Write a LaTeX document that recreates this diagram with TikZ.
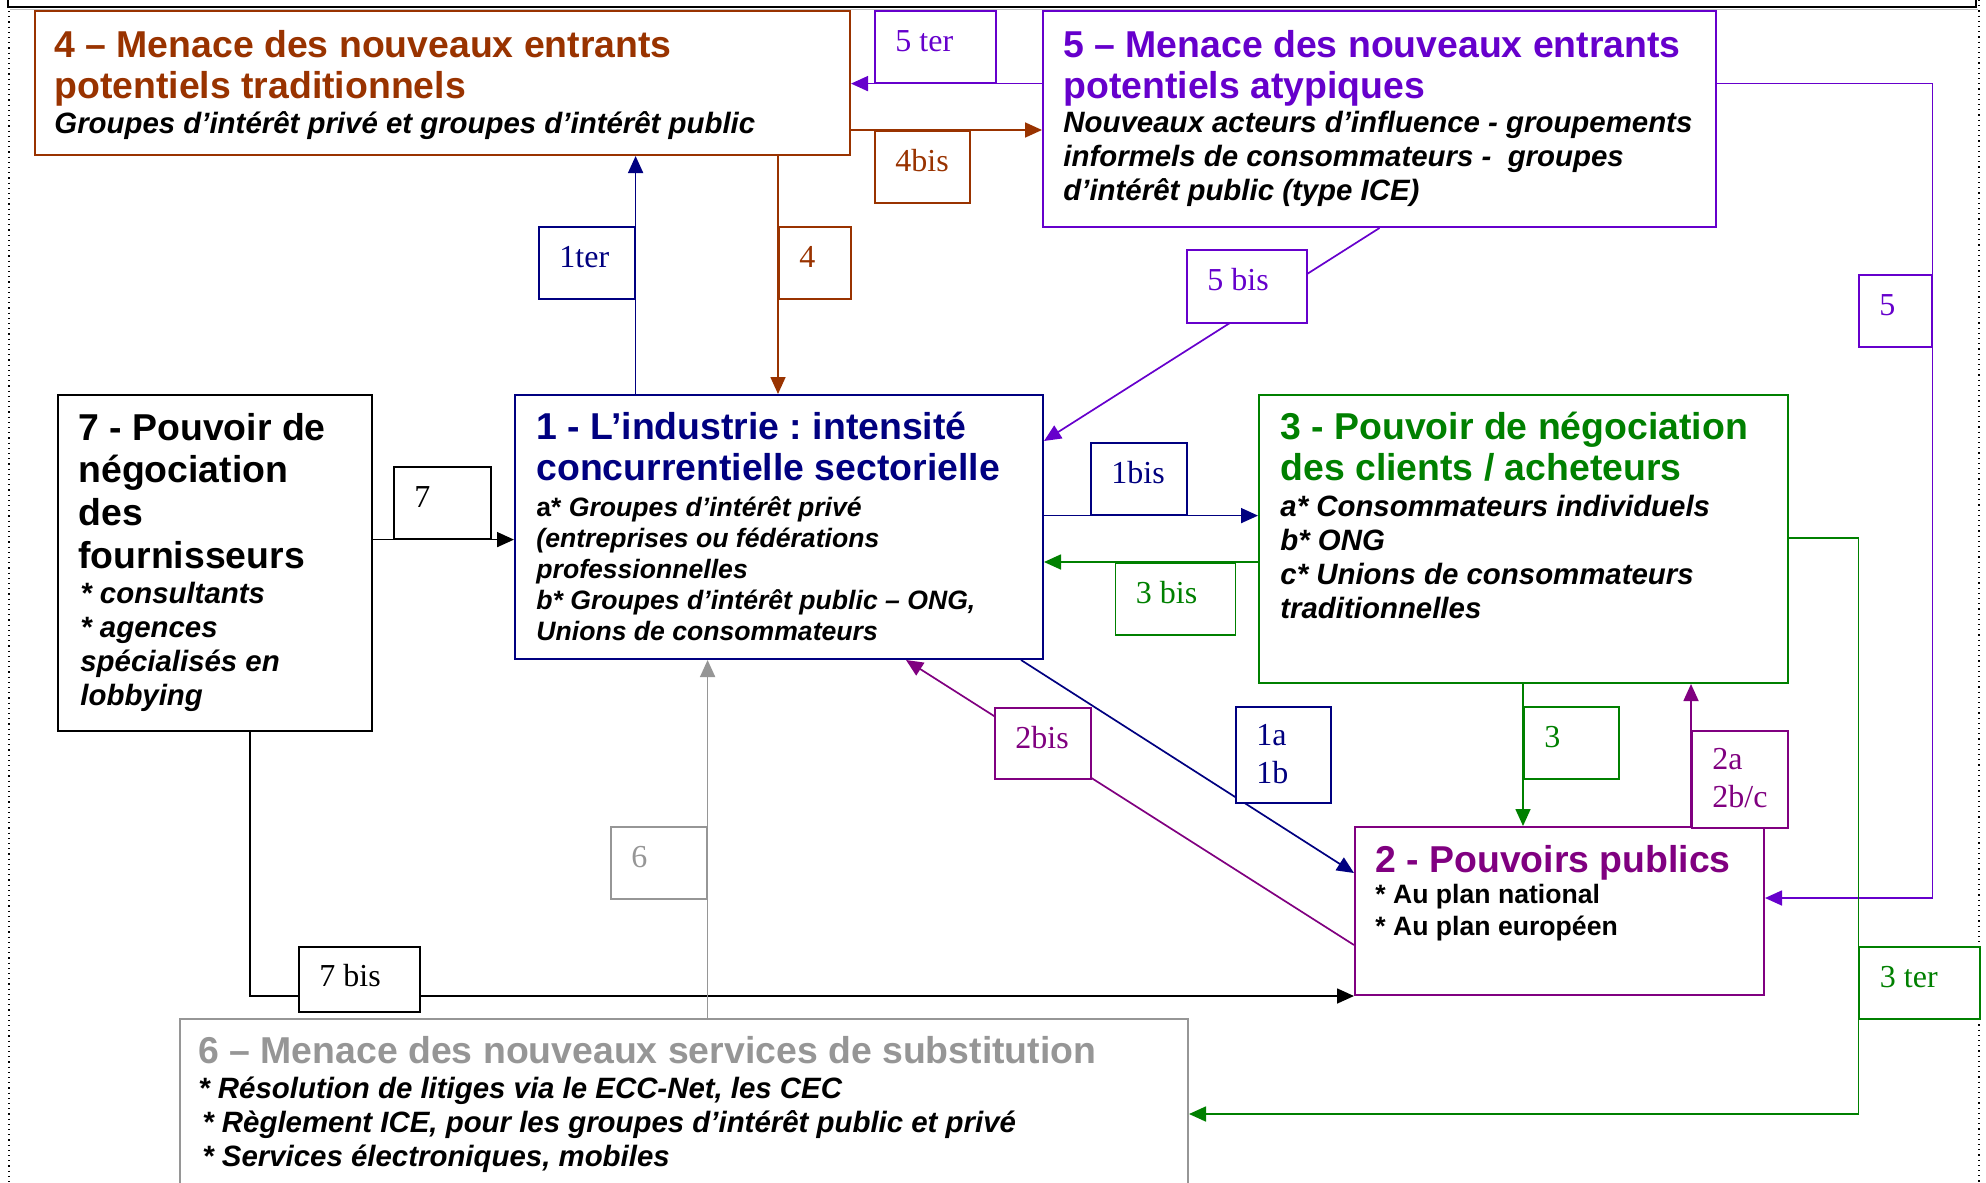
\documentclass[tikz,border=0pt]{standalone}
\usepackage{fontspec}
\setmainfont{Liberation Sans}
\newfontfamily\tagfont{Liberation Serif}
\usetikzlibrary{arrows.meta,calc,backgrounds}
\frenchspacing

\definecolor{brownc}{RGB}{153,51,0}
\definecolor{violetc}{RGB}{102,0,204}
\definecolor{navyc}{RGB}{0,0,128}
\definecolor{greenc}{RGB}{0,128,0}
\definecolor{purplec}{RGB}{128,0,128}
\definecolor{grayc}{RGB}{150,150,150}

\begin{document}
\begin{tikzpicture}[x=0.5pt, y=-0.5pt, >={Triangle[length=8.5pt, width=7.5pt]}]
    \tikzstyle{force} = [rectangle, draw, line width=1pt, fill=white, anchor=north west, inner sep=0pt]
    \tikzstyle{tag} = [rectangle, draw, line width=0.8pt, fill=white, anchor=north west, inner sep=0pt]
    \tikzstyle{title} = [anchor=base west, inner sep=0pt, align=left, font=\fontsize{18.7}{20.5}\selectfont\bfseries]
    \tikzstyle{detail} = [anchor=base west, inner sep=0pt, align=left, font=\fontsize{14.7}{17}\selectfont\bfseries\itshape]
    \tikzstyle{tagtext} = [anchor=base west, inner sep=0pt, align=left, font=\fontsize{16}{18.75}\selectfont\tagfont]
    \tikzstyle{link} = [->, line width=0.85pt]

    \useasboundingbox (0,0) rectangle (1986,1183);

    % Page frame
    \draw[line width=1pt] (8,-4) -- (8,7) -- (1976,7) -- (1976,-4);
    \draw[gray!50, line width=0.8pt] (10,9.5) -- (1978,9.5);
    \draw[dotted, line width=0.6pt] (9,11) -- (9,1183);
    \draw[dotted, line width=0.6pt] (1979,0) -- (1979,1183);

    % Forces
    \node[force, draw=brownc, minimum width=407.5pt, minimum height=72pt] (b4) at (34,10) {};
    \node[force, draw=violetc, minimum width=336.5pt, minimum height=108pt] (b5) at (1042,10) {};
    \node[force, draw=navyc, minimum width=264pt, minimum height=132pt] (b1) at (514,394) {};
    \node[force, minimum width=157pt, minimum height=168pt] (b7) at (57,394) {};
    \node[force, draw=greenc, minimum width=264.5pt, minimum height=144pt] (b3) at (1258,394) {};
    \node[force, draw=purplec, minimum width=204.5pt, minimum height=84pt] (b2) at (1354,826) {};
    \node[force, draw=grayc, minimum width=504pt, minimum height=90pt] (b6) at (179,1018) {};

    % Force texts (anchored at the last line)
    \node[title, text=brownc] (t4) at (54,98) {4 – Menace des nouveaux entrants\\potentiels traditionnels};
    \node[detail] (d4) at (54,133) {Groupes d’intérêt privé et groupes d’intérêt public};
    \node[title, text=violetc] (t5) at (1063,98) {5 – Menace des nouveaux entrants\\potentiels atypiques};
    \node[detail] (d5) at (1063,200) {Nouveaux acteurs d’influence - groupements\\informels de consommateurs -\ \ groupes\\d’intérêt public (type ICE)};
    \node[title, text=navyc] (t1) at (536,480) {1 - L’industrie : intensité\\concurrentielle sectorielle};
    \node[detail, font=\fontsize{13.3}{15.4}\selectfont\bfseries\itshape] (d1) at (536,640) {{\upshape a*} Groupes d’intérêt privé\\(entreprises ou fédérations\\professionnelles\\b* Groupes d’intérêt public – ONG,\\Unions de consommateurs};
    \node[title, font=\fontsize{18.7}{21.3}\selectfont\bfseries] (t7) at (78,568) {7 - Pouvoir de\\négociation\\des\\fournisseurs};
    \node[detail] (d7) at (80,705) {* consultants\\* agences\\spécialisés en\\lobbying};
    \node[title, text=greenc] (t3) at (1280,480) {3 - Pouvoir de négociation\\des clients / acheteurs};
    \node[detail] (d3) at (1280,618) {a* Consommateurs individuels\\b* ONG\\c* Unions de consommateurs\\traditionnelles};
    \node[title, text=purplec] (t2) at (1375,872) {2 - Pouvoirs publics};
    \node[detail, font=\fontsize{13.3}{16}\selectfont\bfseries] (d2) at (1375,935) {* Au plan national\\* Au plan européen};
    \node[title, text=grayc] (t6) at (198,1063) {6 – Menace des nouveaux services de substitution};
    \node[detail] (d6) at (198,1166) {* Résolution de litiges via le ECC-Net, les CEC\\\hspace{2pt}* Règlement ICE, pour les groupes d’intérêt public et privé\\\hspace{2pt}* Services électroniques, mobiles};

    % Flow tags
    \node[tag, draw=violetc, minimum width=60.5pt, minimum height=36pt] (l5ter) at (874,10) {};
    \node[tagtext, text=violetc] (x5ter) at ([shift={(21,41)}]l5ter.north west) {5 ter};
    \node[tag, draw=brownc, minimum width=47.5pt, minimum height=36pt] (l4bis) at (874,130) {};
    \node[tagtext, text=brownc] (x4bis) at ([shift={(21,41)}]l4bis.north west) {4bis};
    \node[tag, draw=navyc, minimum width=48pt, minimum height=36pt] (l1ter) at (538,226) {};
    \node[tagtext, text=navyc] (x1ter) at ([shift={(21,41)}]l1ter.north west) {1ter};
    \node[tag, draw=brownc, minimum width=36pt, minimum height=36pt] (l4) at (778,226) {};
    \node[tagtext, text=brownc] (x4) at ([shift={(21,41)}]l4.north west) {4};
    \node[tag, draw=violetc, minimum width=60pt, minimum height=36.5pt] (l5bis) at (1186,249) {};
    \node[tagtext, text=violetc] (x5bis) at ([shift={(21,41)}]l5bis.north west) {5 bis};
    \node[tag, draw=violetc, minimum width=36.5pt, minimum height=36pt] (l5) at (1858,274) {};
    \node[tagtext, text=violetc] (x5) at ([shift={(21,41)}]l5.north west) {5};
    \node[tag, minimum width=48.5pt, minimum height=36pt] (l7) at (393,466) {};
    \node[tagtext] (x7) at ([shift={(21,41)}]l7.north west) {7};
    \node[tag, draw=navyc, minimum width=48pt, minimum height=36pt] (l1bis) at (1090,442) {};
    \node[tagtext, text=navyc] (x1bis) at ([shift={(21,41)}]l1bis.north west) {1bis};
    \node[tag, draw=greenc, minimum width=60pt, minimum height=36pt] (l3bis) at (1114.5,562) {};
    \node[tagtext, text=greenc] (x3bis) at ([shift={(21,41)}]l3bis.north west) {3 bis};
    \node[tag, draw=purplec, minimum width=48pt, minimum height=35.5pt] (l2bis) at (994,707) {};
    \node[tagtext, text=purplec] (x2bis) at ([shift={(21,41)}]l2bis.north west) {2bis};
    \node[tag, draw=navyc, minimum width=47.5pt, minimum height=48pt] (l1ab) at (1235,706) {};
    \node[tagtext, text=navyc] (x1ab) at ([shift={(21,77)}]l1ab.north west) {1a\\1b};
    \node[tag, draw=greenc, minimum width=47.5pt, minimum height=36pt] (l3) at (1523,706) {};
    \node[tagtext, text=greenc] (x3) at ([shift={(21,41)}]l3.north west) {3};
    \node[tag, draw=purplec, minimum width=48pt, minimum height=48.5pt] (l2abc) at (1691,730) {};
    \node[tagtext, text=purplec] (x2abc) at ([shift={(21,77)}]l2abc.north west) {2a\\2b/c};
    \node[tag, draw=grayc, minimum width=48pt, minimum height=36pt] (l6) at (610,826) {};
    \node[tagtext, text=grayc] (x6) at ([shift={(21,41)}]l6.north west) {6};
    \node[tag, minimum width=60.5pt, minimum height=32.5pt] (l7bis) at (298,946) {};
    \node[tagtext] (x7bis) at ([shift={(21,40)}]l7bis.north west) {7 bis};
    \node[tag, draw=greenc, minimum width=60.25pt, minimum height=36pt] (l3ter) at (1858.5,946) {};
    \node[tagtext, text=greenc] (x3ter) at ([shift={(21,41)}]l3ter.north west) {3 ter};

    % Connections
    \begin{pgfonlayer}{background}
    \draw[link, violetc] (b5.west |- l5ter.south) -- (b4.east |- l5ter.south);
    \draw[link, brownc] (b4.east |- l4bis.north) -- (b5.west |- l4bis.north);
    \draw[link, navyc] (l1ter.east |- b1.north) -- (l1ter.east |- b4.south);
    \draw[link, brownc] (l4.west |- b4.south) -- (l4.west |- b1.north);
    \draw[link, violetc] (b5.south) -- ($(b1.north east)+(0,47)$);
    \draw[link, violetc] (b5.east |- l5ter.south) -| (l5.east) |- ($(b2.north east)+(0,72)$);
    \draw[link] (b7.east |- l7.south) -- (b1.west |- l7.south);
    \draw[link] ($(b7.south west)+(193,0)$) |- (b2.south west);
    \draw[link, navyc] (b1.east |- l1bis.south) -- (b3.west |- l1bis.south);
    \draw[link, greenc] (b3.west |- l3bis.north) -- (b1.east |- l3bis.north);
    \draw[link, navyc] ($(b1.south east)+(-23,0)$) -- ($(b2.north west)+(0,47)$);
    \draw[link, purplec] ($(b2.north west)+(0,119)$) -- ($(b1.south west)+(392,0)$);
    \draw[link, greenc] (l3.west |- b3.south) -- (l3.west |- b2.north);
    \draw[link, purplec] (l2abc.west |- b2.north) -- (l2abc.west |- b3.south);
    \draw[link, grayc] (l6.east |- b6.north) -- (l6.east |- b1.south);
    \draw[link, greenc] ($(b3.north east)+(0,144)$) -| (l3ter.west) |- ($(b6.north east)+(0,96)$);
    \end{pgfonlayer}
\end{tikzpicture}
\end{document}
